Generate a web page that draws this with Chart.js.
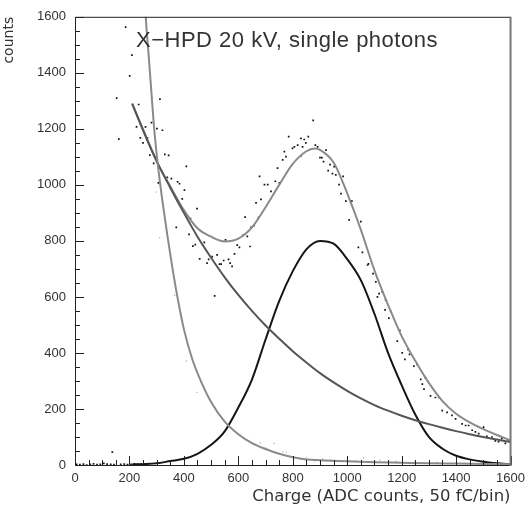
<!DOCTYPE html>
<html>
<head>
<meta charset="utf-8">
<title>X-HPD 20 kV single photons</title>
<script src="https://cdn.jsdelivr.net/npm/chart.js@4.4.1/dist/chart.umd.min.js"></script>
<style>
  html, body { margin: 0; padding: 0; background: #fff; }
  #wrap { width: 531px; height: 516px; position: relative; }
</style>
</head>
<body>
<div id="wrap"><canvas id="myChart"></canvas></div>
<script>
// ---- data ----
const plotTitle = 'X\u2212HPD 20 kV, single photons';
const xLabel = 'Charge (ADC counts, 50 fC/bin)';
const yLabel = 'counts';

// measured spectrum (black dots)
const dataX = [137,153,161,186,201,209,226,234,240,250,259,266,275,281,289,301,306,312,321,330,339,344,354,372,377,384,394,402,409,419,424,433,442,448,458,475,485,491,504,513,522,531,537,546,553,564,570,577,586,596,604,619,625,633,643,647,657,665,674,678,683,696,708,720,736,744,751,763,769,775,785,799,806,818,830,830,836,842,848,857,875,883,891,900,907,913,922,930,937,946,952,958,970,977,985,995,1007,1017,1041,1050,1056,1075,1078,1095,1105,1111,1117,1129,1139,1141,1153,1160,1184,1193,1202,1212,1224,1229,1245,1257,1270,1276,1282,1287,1306,1324,1337,1349,1367,1385,1398,1422,1435,1446,1459,1471,1483,1501,1513,1532,1544,1556,1568,1581,1593];
const dataY = [46,1310,1163,1563,1389,1463,1207,1287,1168,1150,1207,1168,1106,1222,1077,1201,1007,1306,1195,1109,1027,1105,1022,848,1011,1004,950,981,1066,823,880,781,787,915,736,795,721,734,744,604,750,717,717,730,804,734,721,709,754,785,777,822,885,816,780,848,854,936,883,1030,948,1001,1001,977,1013,1060,1007,1089,1119,1101,1172,1130,1136,1142,1103,1166,1136,1162,1150,1172,1230,1142,1136,1097,1097,1083,1124,1051,1072,1040,1065,1036,1001,969,1030,942,875,942,777,869,759,714,718,683,654,600,612,618,554,589,524,548,442,481,400,377,412,395,353,359,306,289,271,312,247,241,241,194,188,177,165,147,141,141,124,118,112,135,102,100,86,83,94,77,90];

// empty bins near zero at low charge
const zeroX = [6,18,31,43,56,68,81,93,106,118,131,143,168,181,193,206,218,231,243];
const zeroY = [2,1,3,0,2,4,1,2,6,3,2,1,2,3,1,2,4,2,3];

// pedestal histogram (light grey dots)
const pedX = [299,311,366,409,447,553,649,681,700,732,763,776,800,830,850,880,910,940,970,1000,1030,1060,1090,1120,1150,1180,1210,1250,1290,1330,1380,1430];
const pedY = [974,812,606,371,259,124,80,80,60,77,47,46,30,20,25,15,22,18,12,20,15,25,12,18,10,14,8,12,6,9,4,6];

// total fit (light grey)
const totalX = [210,250,300,350,400,450,500,550,600,650,700,750,800,850,880,900,950,1000,1050,1100,1150,1200,1250,1300,1350,1400,1450,1500,1550,1600];
const totalY = [1290,1198,1084,995,910,845,815,798,808,848,920,1000,1075,1120,1130,1125,1080,970,840,695,572,460,372,293,228,183,152,128,107,88];

// exponential background (dark grey)
const expoX = [210,250,300,350,400,450,500,550,600,650,700,750,800,850,900,950,1000,1050,1100,1150,1200,1250,1300,1350,1400,1450,1500,1550,1600];
const expoY = [1290,1195,1085,990,900,815,740,670,607,550,498,451,406,366,328,295,265,238,214,194,176,160,146,133,121,110,100,91,82];

// single photon peak (black)
const gausX = [210,250,300,350,400,450,500,550,600,650,700,750,800,850,900,950,1000,1050,1100,1150,1200,1250,1300,1350,1400,1450,1500,1550,1600];
const gausY = [2,3,6,14,22,40,72,120,205,305,448,585,692,770,800,790,735,660,540,400,285,180,100,58,33,20,12,6,3];

// pedestal fit (grey, steep)
const pedFitX = [255,260,270,280,290,300,310,320,340,360,380,400,430,460,500,550,600,650,700,750,800,850,900,1000,1100,1200,1300,1400,1500,1600];
const pedFitY = [1720,1600,1470,1340,1210,1110,1025,950,815,690,580,485,380,305,225,155,110,78,57,40,28,20,17,13,10,8,6,5,4,3];

function pts(xs, ys) {
  return xs.map((x, i) => ({ x: x, y: ys[i] }));
}

// inward ticks + frame, ROOT style
const frameTicks = {
  id: 'frameTicks',
  afterDatasetsDraw(chart) {
    const { ctx, chartArea: a, scales: { x, y } } = chart;
    ctx.save();
    ctx.strokeStyle = '#222';
    ctx.lineWidth = 1;
    ctx.beginPath();
    for (let v = 0; v <= 1600; v += 50) {
      const len = v % 200 === 0 ? 9 : 5;
      const px = Math.round(x.getPixelForValue(v)) + 0.5;
      ctx.moveTo(px, a.bottom);
      ctx.lineTo(px, a.bottom - len);
      const py = Math.round(y.getPixelForValue(v)) + 0.5;
      ctx.moveTo(a.left, py);
      ctx.lineTo(a.left + len, py);
    }
    ctx.stroke();
    ctx.beginPath();
    ctx.moveTo(a.right, a.top + 0.5);
    ctx.lineTo(a.left + 0.5, a.top + 0.5);
    ctx.lineTo(a.left + 0.5, a.bottom + 0.5);
    ctx.lineTo(a.right, a.bottom + 0.5);
    ctx.stroke();
    ctx.strokeStyle = '#777';
    ctx.lineWidth = 2;
    ctx.beginPath();
    ctx.moveTo(a.right, a.top);
    ctx.lineTo(a.right, a.bottom + 1);
    ctx.stroke();
    // title inside the frame
    ctx.fillStyle = '#333';
    ctx.font = '22px "Liberation Sans", Arial, sans-serif';
    ctx.letterSpacing = '0.5px';
    ctx.textBaseline = 'alphabetic';
    ctx.fillText(plotTitle, a.left + 61, a.top + 30);
    ctx.restore();
  }
};

const tickFont = { family: '"Liberation Sans", Arial, sans-serif', size: 13 };
const plain = (v) => String(v);

new Chart(document.getElementById('myChart'), {
  type: 'scatter',
  data: {
    datasets: [
      {
        label: 'pedestal fit',
        data: pts(pedFitX, pedFitY),
        showLine: true, pointRadius: 0, borderColor: '#8a8a8a', borderWidth: 2, cubicInterpolationMode: 'monotone'
      },
      {
        label: 'background',
        data: pts(expoX, expoY),
        showLine: true, pointRadius: 0, borderColor: '#555', borderWidth: 2, cubicInterpolationMode: 'monotone'
      },
      {
        label: 'total fit',
        data: pts(totalX, totalY),
        showLine: true, pointRadius: 0, borderColor: '#8a8a8a', borderWidth: 2, cubicInterpolationMode: 'monotone'
      },
      {
        label: 'peak',
        data: pts(gausX, gausY),
        showLine: true, pointRadius: 0, borderColor: '#151515', borderWidth: 2, cubicInterpolationMode: 'monotone'
      },
      {
        label: 'pedestal',
        data: pts(pedX, pedY),
        pointStyle: 'rect', pointRadius: 0.9, backgroundColor: '#b5b5b5', borderWidth: 0
      },
      {
        label: 'zero bins',
        data: pts(zeroX, zeroY),
        pointStyle: 'rect', pointRadius: 1.2, backgroundColor: '#111', borderWidth: 0
      },
      {
        label: 'data',
        data: pts(dataX, dataY),
        pointStyle: 'rect', pointRadius: 1.2, backgroundColor: '#111', borderWidth: 0
      }
    ]
  },
  options: {
    responsive: true,
    maintainAspectRatio: false,
    animation: false,
    layout: { padding: { top: 13, right: 19, left: 0, bottom: 0 } },
    plugins: {
      legend: { display: false },
      tooltip: { enabled: false }
    },
    scales: {
      x: {
        type: 'linear',
        min: 0, max: 1600,
        grid: { display: false, drawTicks: false },
        border: { display: false },
        ticks: { stepSize: 200, padding: 6, color: '#333', font: tickFont, maxRotation: 0, callback: plain },
        title: {
          display: true, text: xLabel, align: 'end', color: '#333',
          font: { family: '"DejaVu Sans", sans-serif', size: 16.5 },
          padding: { top: 0, bottom: 9 }
        },
        afterFit: (s) => { s.height = 51; }
      },
      y: {
        type: 'linear',
        min: 0, max: 1600,
        grid: { display: false, drawTicks: false },
        border: { display: false },
        ticks: { stepSize: 200, padding: 9, color: '#333', font: tickFont, callback: plain },
        title: {
          display: true, text: yLabel, align: 'end', color: '#333',
          font: { family: '"DejaVu Sans", sans-serif', size: 14 },
          padding: { top: 1, bottom: 0 }
        },
        afterFit: (s) => { s.width = 75; }
      }
    }
  },
  plugins: [frameTicks]
});
</script>
</body>
</html>
